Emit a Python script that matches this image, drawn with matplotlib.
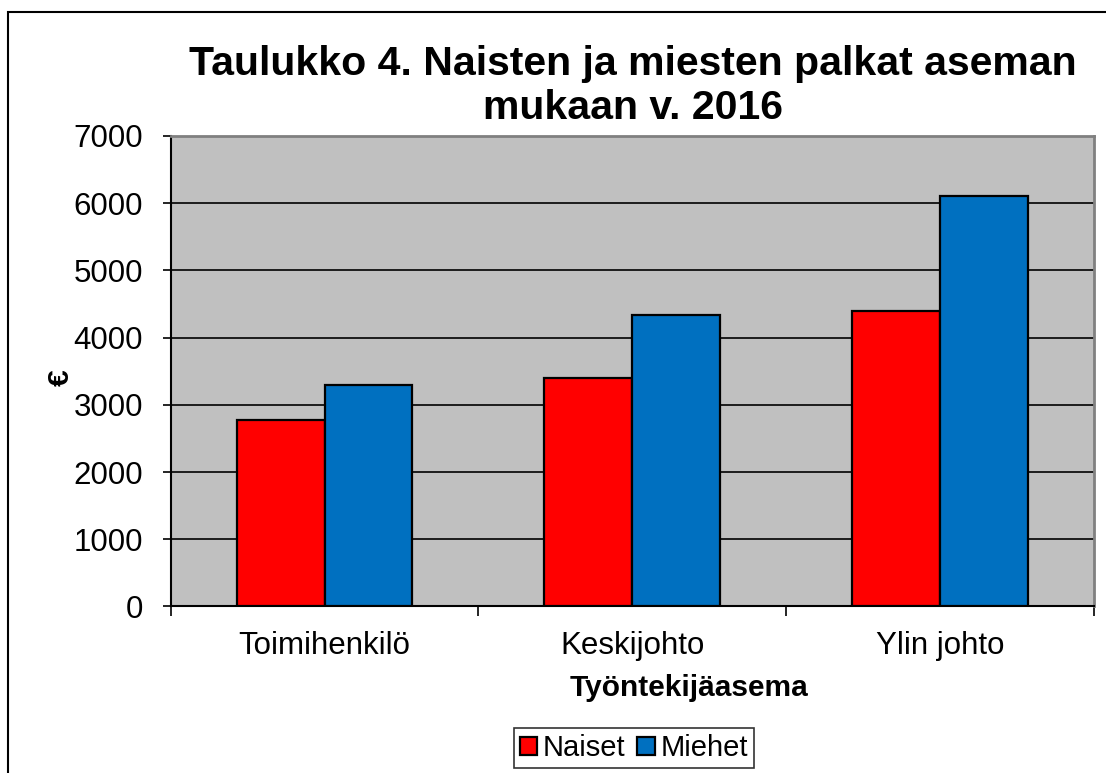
import matplotlib.pyplot as plt
import numpy as np
from matplotlib.patches import Rectangle

plt.rcParams['font.family'] = ['Liberation Sans', 'DejaVu Sans']

categories = ['Toimihenkilö', 'Keskijohto', 'Ylin johto']
naiset = [2770, 3400, 4390]
miehet = [3290, 4340, 6100]
yticks = [0, 1000, 2000, 3000, 4000, 5000, 6000, 7000]

fig = plt.figure(figsize=(11.06, 7.73), dpi=100)
ax = fig.add_axes([0.1543, 0.2154, 0.8349, 0.6087])

# outer chart border
fig.patches.append(Rectangle((8 / 1106, -0.1), 1.2, 1 - 12 / 773 + 0.1,
                             transform=fig.transFigure, fill=False,
                             edgecolor='black', linewidth=1.5))

x = np.arange(len(categories))
w = 1 / 3.5
ax.set_facecolor('#C0C0C0')
ax.bar(x - w / 2, naiset, w, color='#FF0000', edgecolor='black',
       linewidth=1.6, label='Naiset', zorder=3)
ax.bar(x + w / 2, miehet, w, color='#0070C0', edgecolor='black',
       linewidth=1.6, label='Miehet', zorder=3)

ax.set_xlim(-0.5, len(categories) - 0.5)
ax.set_ylim(0, 7000)
ax.set_yticks(yticks)
ax.yaxis.grid(True, color='black', linewidth=1.2, zorder=1)
ax.set_axisbelow(True)

ax.set_xticks(np.arange(len(categories) + 1) - 0.5)
ax.set_xticklabels([])
ax.set_xticks(x, minor=True)
ax.set_xticklabels(categories, minor=True, fontsize=22.5)
ax.tick_params(axis='x', which='minor', length=0, pad=18)
ax.tick_params(axis='x', which='major', length=7, width=1.2, direction='out')
ax.tick_params(axis='y', length=6, width=1.2, direction='out', labelsize=22.5, pad=14)

for s in ['top', 'right']:
    ax.spines[s].set_color('#808080')
    ax.spines[s].set_linewidth(2)
for s in ['left', 'bottom']:
    ax.spines[s].set_color('black')
    ax.spines[s].set_linewidth(1.5)

ax.set_xlabel('Työntekijäasema', fontsize=21.5, fontweight='bold', va='center')
ax.xaxis.set_label_coords(0.561, -0.173)
ax.set_ylabel('€', fontsize=21.5, fontweight='bold', va='center')
ax.yaxis.set_label_coords(-0.119, 0.486)

fig.text(0.572, 0.889, 'Taulukko 4. Naisten ja miesten palkat aseman\nmukaan v. 2016',
         ha='center', va='center', fontsize=29.5, fontweight='bold',
         linespacing=1.22)

leg = fig.legend(loc='center', bbox_to_anchor=(0.573, 0.032), ncol=2,
                 fontsize=21, frameon=True, fancybox=False, edgecolor='black',
                 handlelength=0.6, handleheight=0.6, handletextpad=0.2,
                 columnspacing=0.4, borderpad=0.2, borderaxespad=0)
leg.get_frame().set_linewidth(1.2)

fig.savefig('out.png', dpi=100)
